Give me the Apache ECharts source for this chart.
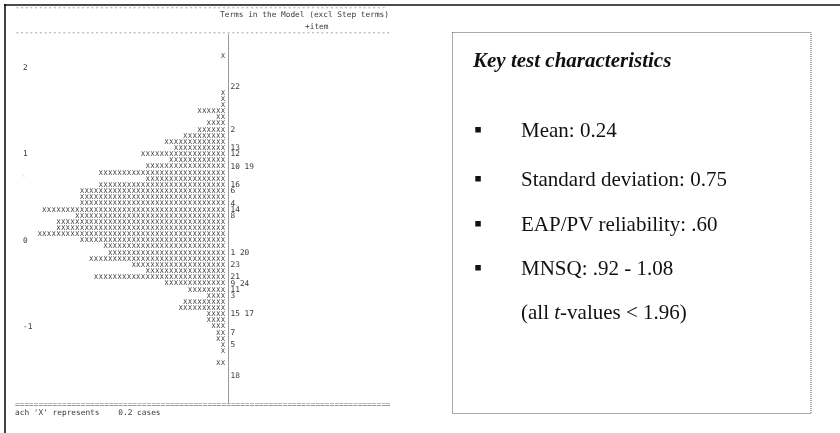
<!DOCTYPE html>
<html><head><meta charset="utf-8">
<script src="https://cdn.jsdelivr.net/npm/echarts@6/dist/echarts.min.js"></script>
<style>html,body{margin:0;padding:0;background:#fff}#c{width:840px;height:433px}</style>
</head><body><div id="c"></div>
<script>
// Wright map rows, top to bottom (first three rows are blank space above the map)
const rowIds = ['r00','r01','r02','r03','r04','r05','r06','r07','r08','r09','r10','r11','r12','r13','r14','r15','r16','r17','r18','r19','r20','r21','r22','r23','r24','r25','r26','r27','r28','r29','r30','r31','r32','r33','r34','r35','r36','r37','r38','r39','r40','r41','r42','r43','r44','r45','r46','r47','r48','r49','r50','r51','r52','r53','r54','r55','r56','r57','r58','r59'];
// number of 'X' in each row (each X = 0.2 cases)
const personCounts = [0,0,0, 1,0,0,0,0,0, 1,1,1,6,2,4,6,9,13,11,18,12,17,27,17,27,31,31,31,39,32,36,36,40,31,26,25,29,20,17,28,13,8,4,9,10,4,4,3,2,2,1,1,0,2,0,0,0,0,0,0];
// item numbers placed on the right of the axis
const itemRows   = [8, 15, 18, 19, 21, 24, 25, 27, 28, 29, 35, 37, 39, 40, 41, 42, 45, 48, 50, 55];
const itemLabels = ['22','2','13','12','10 19','16','6','4','14','8','1 20','23','21','9 24','11','3','15 17','7','5','18'];
// logit scale labels on the left
const scaleRows   = [5, 19, 33, 47];
const scaleLabels = ['2','1','0','-1'];

const headerTitle = 'Terms in the Model (excl Step terms)';
const headerSub = '+item';
const footerText = "ach 'X' represents    0.2 cases";

const keyTitle = 'Key test characteristics';
const keyItems = ['Mean: 0.24','Standard deviation: 0.75','EAP/PV reliability: .60','MNSQ: .92 - 1.08'];

const MONO = '"DejaVu Sans Mono", "Liberation Mono", monospace';
const SERIF = '"Liberation Serif", "DejaVu Serif", serif';
const txtCol = '#3a3a3a';

const itemMap = {}; itemRows.forEach((r,i)=>itemMap[r]=itemLabels[i]);
const scaleMap = {}; scaleRows.forEach((r,i)=>scaleMap[r]=scaleLabels[i]);

const chart = echarts.init(document.getElementById('c'), null, {renderer:'canvas'});

const seriesData = personCounts.map((n,i)=>[n,i]);

const keyY = [131, 180, 225, 269];
const graphic = [
  {type:'line', shape:{x1:4,y1:5,x2:840,y2:5}, style:{stroke:'#111',lineWidth:1.6}},
  {type:'line', shape:{x1:5,y1:4,x2:5,y2:433}, style:{stroke:'#111',lineWidth:1.6}},
  {type:'text', x:15, y:7.5, style:{text:'-'.repeat(79), font:'7.8px '+MONO, fill:'#777', verticalAlign:'middle'}},
  {type:'text', x:220, y:15, style:{text:headerTitle, font:'7.8px '+MONO, fill:txtCol, verticalAlign:'middle'}},
  {type:'text', x:305, y:26.5, style:{text:headerSub, font:'7.8px '+MONO, fill:txtCol, verticalAlign:'middle'}},
  {type:'text', x:15, y:32.5, style:{text:'-'.repeat(80), font:'7.8px '+MONO, fill:'#777', verticalAlign:'middle'}},
  {type:'text', x:15, y:405, style:{text:'='.repeat(80), font:'7.8px '+MONO, fill:'#777', verticalAlign:'middle'}},
  {type:'text', x:15, y:412.5, style:{text:footerText, font:'7.8px '+MONO, fill:txtCol, verticalAlign:'middle'}},
  {type:'text', x:22, y:179, style:{text:'`', font:'7px '+MONO, fill:'#aaa', verticalAlign:'middle'}},
  {type:'rect', shape:{x:452.5,y:32.5,width:358.5,height:381}, style:{fill:'none',stroke:'#555',lineWidth:1,lineDash:[1,1]}},
  {type:'text', x:473, y:62, style:{text:keyTitle, font:'italic bold 21px '+SERIF, fill:'#111', verticalAlign:'middle'}},
  {type:'text', x:521, y:313, style:{
    text:'{n|(all }{i|t}{n|-values < 1.96)}', verticalAlign:'middle',
    rich:{n:{font:'21px '+SERIF, fill:'#111'}, i:{font:'italic 21px '+SERIF, fill:'#111'}}
  }}
];
keyItems.forEach((t,i)=>{
  graphic.push({type:'rect', shape:{x:475.3,y:keyY[i]-4,width:5.5,height:5.5}, style:{fill:'#111'}});
  graphic.push({type:'text', x:521, y:keyY[i], style:{text:t, font:'21px '+SERIF, fill:'#111', verticalAlign:'middle'}});
});

chart.setOption({
  animation:false,
  backgroundColor:'#fff',
  grid:{left:16.5, right:612, top:34.47, height:369.1, containLabel:false},
  xAxis:{type:'value', min:0, max:45, inverse:true, show:false},
  yAxis:[
    {type:'category', data:rowIds, inverse:true, position:'right',
     axisLine:{show:true, lineStyle:{color:'#999', width:1}},
     axisTick:{show:false}, splitLine:{show:false},
     axisLabel:{interval:0, margin:2.5, fontFamily:MONO, fontSize:7.8, color:txtCol,
       formatter:(v,idx)=> itemMap[idx] || ''}},
    {type:'category', data:rowIds, inverse:true, position:'left',
     axisLine:{show:false}, axisTick:{show:false}, splitLine:{show:false},
     axisLabel:{interval:0, inside:true, margin:6.5, fontFamily:MONO, fontSize:7.8, color:txtCol,
       formatter:(v,idx)=> scaleMap[idx] || ''}}
  ],
  series:[{
    type:'custom', clip:false, yAxisIndex:0,
    encode:{x:0, y:1},
    data:seriesData,
    renderItem:(params, api)=>{
      const n = api.value(0), row = api.value(1);
      const children = [];
      for (let i=0;i<n;i++){
        const p = api.coord([i+0.5, row]);
        children.push({type:'text', x:p[0]-2.7, y:p[1],
          style:{text:'X', align:'center', verticalAlign:'middle', font:'6.7px '+MONO, fill:'#383838'}});
      }
      return {type:'group', children};
    }
  }],
  graphic:graphic
});
</script></body></html>
